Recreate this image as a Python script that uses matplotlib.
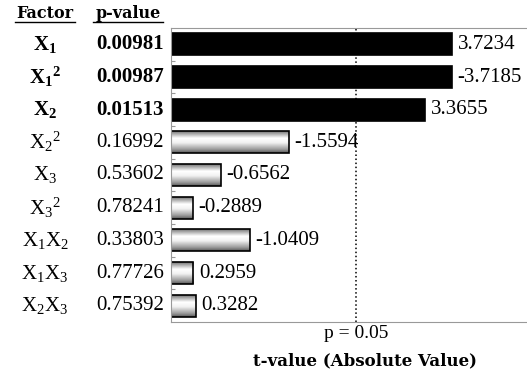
import matplotlib
matplotlib.use('Agg')
import matplotlib.pyplot as plt
import matplotlib.transforms as mtransforms
from matplotlib.lines import Line2D
import numpy as np

plt.rcParams['font.family'] = ['Liberation Serif', 'DejaVu Serif']
plt.rcParams['mathtext.fontset'] = 'custom'
plt.rcParams['mathtext.rm'] = 'Liberation Serif'
plt.rcParams['mathtext.it'] = 'Liberation Serif'
plt.rcParams['mathtext.bf'] = 'Liberation Serif:bold'

factors = [r'$\mathbf{X_1}$', r'$\mathbf{X_1{}^2}$', r'$\mathbf{X_2}$',
           r'$\mathrm{X_2{}^2}$', r'$\mathrm{X_3}$', r'$\mathrm{X_3{}^2}$',
           r'$\mathrm{X_1X_2}$', r'$\mathrm{X_1X_3}$', r'$\mathrm{X_2X_3}$']
p_values = ['0.00981', '0.00987', '0.01513', '0.16992', '0.53602',
            '0.78241', '0.33803', '0.77726', '0.75392']
t_values = [3.7234, -3.7185, 3.3655, -1.5594, -0.6562, -0.2889,
            -1.0409, 0.2959, 0.3282]
significant = [True, True, True, False, False, False, False, False, False]
t_crit = 2.4469

fig = plt.figure(figsize=(5.27, 3.76), dpi=100)
ax = fig.add_axes([171/527, 1-322/376, 1-171/527, (322-28)/376])

y = np.arange(len(t_values))
abs_t = np.abs(t_values)
bars = ax.barh(y, abs_t, height=0.68, color='black', edgecolor='black', lw=1.2)

# gradient fill for the non-significant bars
prof = np.interp(np.linspace(0, 1, 64), [0, 0.12, 0.35, 0.55, 0.85, 1],
                 [0.35, 0.6, 1.0, 0.95, 0.6, 0.35])
grad = prof[:, None] * np.ones((1, 2))
for b, sig in zip(bars, significant):
    if sig:
        continue
    b.set_facecolor('none')
    x0, y0, w, h = b.get_x(), b.get_y(), b.get_width(), b.get_height()
    im = ax.imshow(grad, cmap='gray', vmin=0, vmax=1, aspect='auto',
                   extent=(x0, x0 + w, y0 + h, y0), origin='upper', zorder=1.5)
    im.set_clip_path(b)
    b.set_zorder(2)

for yi, v, t in zip(y, abs_t, t_values):
    ax.annotate('%.4f' % t, (v, yi), xytext=(4, 0), textcoords='offset points',
                ha='left', va='center', fontsize=15)

ax.axvline(t_crit, color='black', ls=':', lw=1.1, zorder=0.5)

ax.set_xlim(0, 356/75.5)
ax.set_ylim(len(t_values) - 0.5, -0.5)
ax.set_xticks([])
ax.set_yticks(np.arange(len(t_values) - 1) + 0.5)
ax.set_yticklabels([])
ax.tick_params(axis='y', direction='in', length=3, color='#999999')
for s in ['left', 'top', 'bottom']:
    ax.spines[s].set_color('#999999')
ax.spines['right'].set_visible(False)

# table columns on the left
tr = mtransforms.blended_transform_factory(fig.transFigure, ax.transData)
for yi, f, p, sig in zip(y, factors, p_values, significant):
    w = 'bold' if sig else 'normal'
    ax.text(45/527, yi, f, transform=tr, ha='center', va='center', fontsize=15)
    ax.text(164/527, yi, p, transform=tr, ha='right', va='center',
            fontsize=15, fontweight=w)

fig.text(45/527, 1-13/376, 'Factor', ha='center', va='center',
         fontsize=11.5, fontweight='bold', family='DejaVu Serif')
fig.text(128/527, 1-13/376, 'p-value', ha='center', va='center',
         fontsize=11.5, fontweight='bold', family='DejaVu Serif')
fig.add_artist(Line2D([15/527, 75/527], [1-22/376, 1-22/376], color='black', lw=1))
fig.add_artist(Line2D([93/527, 163/527], [1-22/376, 1-22/376], color='black', lw=1))

ax.text(t_crit, -0.01, 'p = 0.05', transform=ax.get_xaxis_transform(),
        ha='center', va='top', fontsize=14)
fig.text(365/527, 1-361/376, 't-value (Absolute Value)', ha='center',
         va='center', fontsize=12, fontweight='bold', family='DejaVu Serif')

fig.savefig('out.png', dpi=100)
